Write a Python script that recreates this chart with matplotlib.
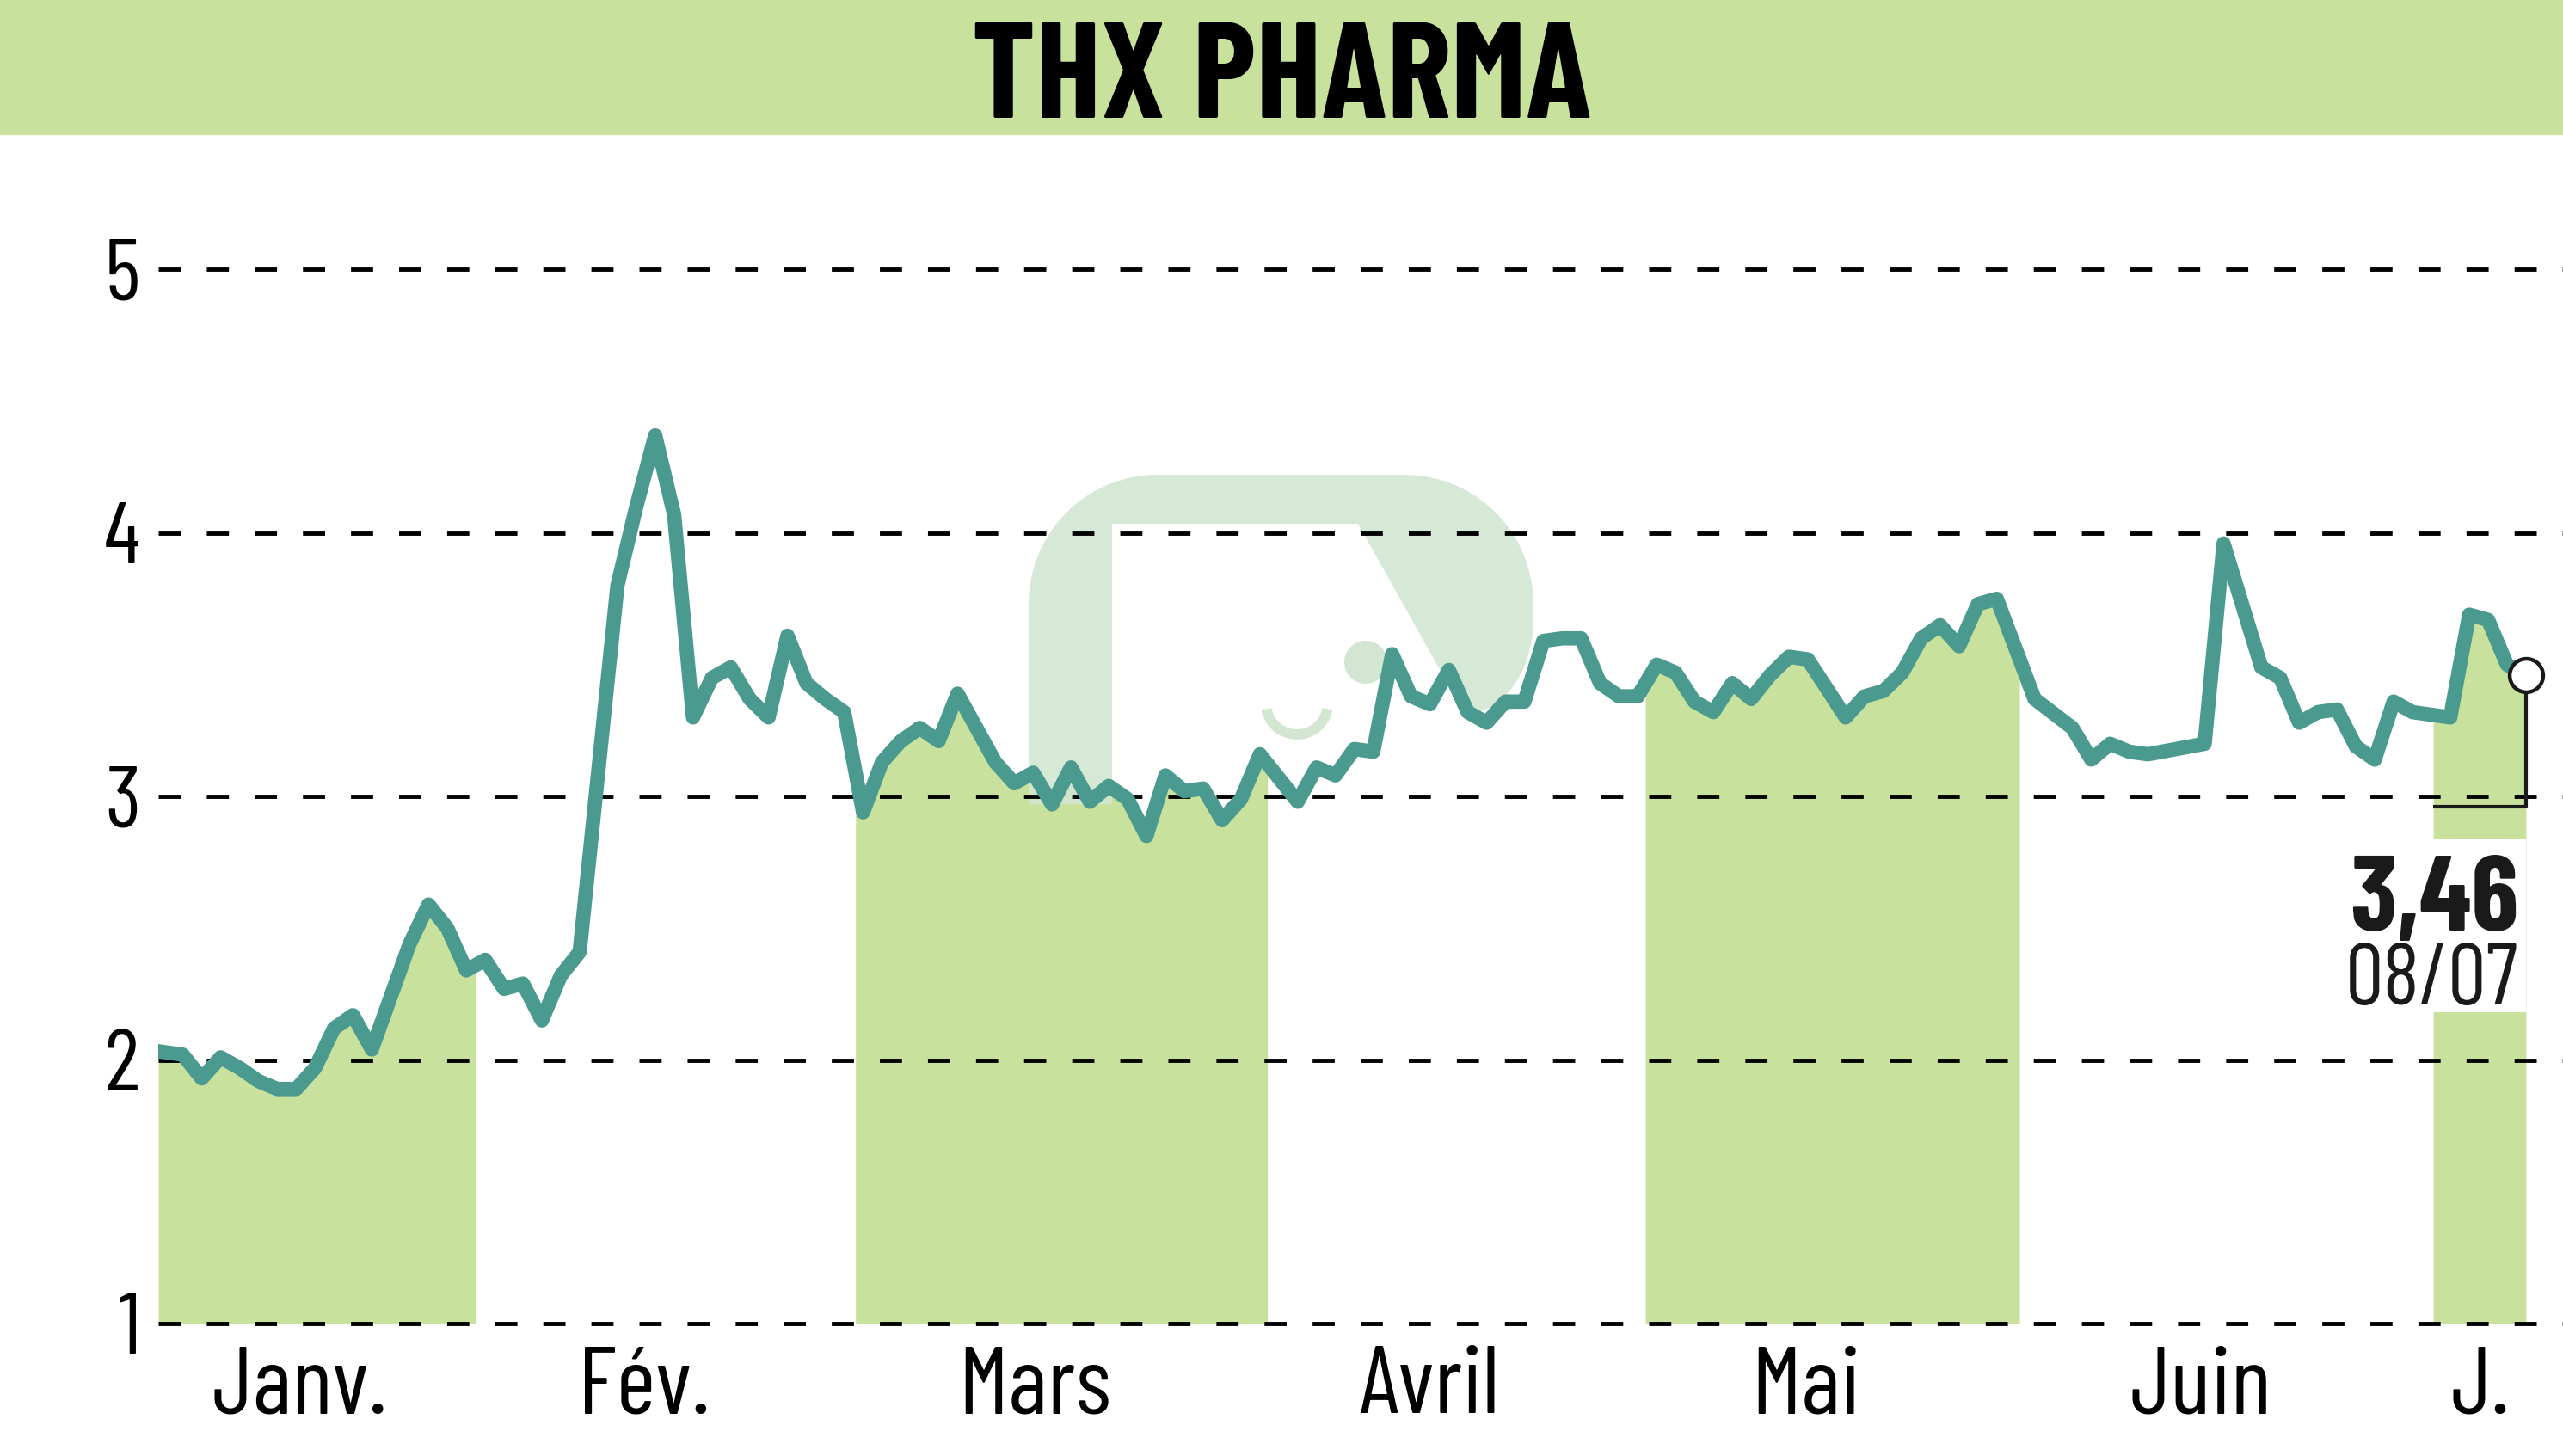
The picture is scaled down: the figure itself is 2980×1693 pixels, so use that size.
import numpy as np
import matplotlib.pyplot as plt
from matplotlib.patches import Rectangle, Polygon, Circle, Wedge

# ------------------------------------------------------------------------------
# data (x = trading-day index, gaps = days without quotes)
# ------------------------------------------------------------------------------
days = [0, 1, 2, 3, 4, 5, 6, 7, 8, 9, 10, 11, 12, 13, 14, 15, 16,
        17, 18, 19, 20, 21, 22, 24, 25, 26, 27, 28, 29, 30, 31, 32, 33, 34, 35, 36,
        37, 38, 39, 40, 41, 42, 43, 44, 45, 46, 47, 48, 49, 50, 51, 52, 53, 54,
        55, 56, 57, 58,
        60, 61, 62, 63, 64, 65, 66, 67, 68, 69, 70, 71, 72, 73, 74, 75, 76, 77, 78,
        79, 80, 81, 82, 83, 84, 85, 86, 87, 88, 89, 90, 91, 92, 93, 94, 95, 96, 97,
        99, 101, 102, 103, 104, 105, 108, 109, 111, 112, 113, 114, 115, 116, 117,
        118, 119,
        121, 122, 123, 124, 125]

prices = [2.03, 2.02, 1.93, 2.01, 1.97, 1.92, 1.89, 1.89, 1.97, 2.12, 2.17, 2.04,
          2.24, 2.44, 2.59, 2.50, 2.34,
          2.38, 2.27, 2.29, 2.15, 2.32, 2.41, 3.80, 4.10, 4.37, 4.07, 3.30, 3.45,
          3.49, 3.37, 3.30, 3.61, 3.43, 3.37, 3.32,
          2.94, 3.13, 3.21, 3.26, 3.21, 3.39, 3.26, 3.13, 3.05, 3.09, 2.97, 3.11,
          2.98, 3.04, 2.99, 2.85, 3.08, 3.02, 3.03, 2.91, 2.99, 3.16,
          2.98, 3.11, 3.08, 3.18, 3.17, 3.54, 3.38, 3.35, 3.48, 3.32, 3.28, 3.36,
          3.36, 3.59, 3.60, 3.60, 3.43, 3.38, 3.38,
          3.50, 3.47, 3.36, 3.32, 3.43, 3.37, 3.46, 3.53, 3.52, 3.41, 3.30, 3.38,
          3.40, 3.47, 3.60, 3.65, 3.57, 3.73, 3.75,
          3.37, 3.26, 3.14, 3.20, 3.17, 3.16, 3.20, 3.96, 3.49, 3.45, 3.28, 3.32,
          3.33, 3.19, 3.14, 3.36, 3.32,
          3.30, 3.69, 3.67, 3.50, 3.46]

# month boundaries on the same day scale, first one = left edge of the chart
month_edges = [-0.3, 16.5, 36.6, 58.4, 78.4, 98.2, 120.1]
month_names = ['Janv.', 'Fév.', 'Mars', 'Avril', 'Mai', 'Juin', 'J.']
month_label_pos = [7.2, 25.4, 46.1, 67.0, 86.9, 107.8, 122.6]

yticks = [1, 2, 3, 4, 5]
title = 'THX PHARMA'
last_label = '3,46'
last_date = '08/07'

# ------------------------------------------------------------------------------
green = '#c8e29d'
teal = '#4b9a8f'
ink = '#1a1a1a'
logo = '#d2e6d2'

plt.rcParams['font.family'] = ['Barlow Condensed', 'DejaVu Sans']

W, H = 2980, 1693
fig = plt.figure(figsize=(W / 100, H / 100), dpi=100)


def px(x, y):
    # pixel position (from top-left) to inches, for fig.dpi_scale_trans
    return (x / 100, (H - y) / 100)


# title banner
fig.patches.append(Rectangle((0, 1 - 156 / H), 1, 156 / H, transform=fig.transFigure,
                             color=green, zorder=0))
fig.text(0.5, 1 - 137 / H, title, ha='center', va='baseline',
         fontsize=114, fontweight='bold', color='black')

ax = fig.add_axes([184 / W, 1 - 1539 / H, 1 - 184 / W, (1539 - 160) / H])

x = np.array(days, dtype=float)
y = np.array(prices)

# shaded area under the curve for every other month
edges = month_edges + [x[-1]]
for i in range(0, len(edges) - 1, 2):
    a, b = edges[i], edges[i + 1]
    xs = np.concatenate([[a], x[(x > a) & (x < b)], [b]])
    ys = np.interp(xs, x, y)
    ax.fill_between(xs, 1, ys, color=green, lw=0, zorder=1)

# faint watermark logo in the background
tr = fig.dpi_scale_trans
t = np.linspace(0, np.pi / 2, 20)
r = 150
left_arc = [(1196 + r - r * np.cos(a), 552 + r - r * np.sin(a)) for a in t]
right_arc = [(1783 - r + r * np.sin(a), 552 + r - r * np.cos(a)) for a in t]
low_arc = [(1783 - 80 + 80 * np.cos(a), 720 + 110 * np.sin(a)) for a in t]
outline = ([(1196, 935)] + left_arc + right_arc + low_arc +
           [(1579, 609), (1293, 609), (1293, 935)])
ax.add_patch(Polygon([px(*p) for p in outline], closed=True, transform=tr,
                     facecolor=logo, edgecolor='none', alpha=0.9, zorder=1.2))
ax.add_patch(Circle(px(1588, 770), 0.25, transform=tr,
                    facecolor=logo, edgecolor='none', zorder=1.2))
ax.add_patch(Wedge(px(1508, 818), 0.42, 190, 350, width=0.12, transform=tr,
                   facecolor=logo, edgecolor='none', zorder=1.2))

# white box behind the last value label
ax.add_patch(Rectangle((month_edges[-1], 2.18), x[-1] - month_edges[-1], 0.66,
                       facecolor='white', edgecolor='none', zorder=1.5))

for v in yticks:
    ax.axhline(v, color='black', lw=3.5, linestyle=(0, (5.3, 6.2)),
               zorder=2, clip_on=False)

ax.plot(x, y, color=teal, lw=12, zorder=3)

# last value marker and bracket
ax.plot([x[-1], x[-1], month_edges[-1]], [y[-1], 2.96, 2.96],
        color=ink, lw=3, zorder=4, solid_capstyle='butt')
ax.plot(x[-1], y[-1], 'o', ms=28, mfc='white', mec=ink, mew=3.2, zorder=5)

ax.text(x[-1] - 0.4, 2.49, last_label, ha='right', va='baseline',
        fontsize=90, fontweight='bold', color=ink, zorder=6)
ax.text(x[-1] - 0.4, 2.21, last_date, ha='right', va='baseline',
        fontsize=72, color=ink, zorder=6)

ax.set_xlim(month_edges[0], month_edges[0] + (W - 184) / 21.97)
ax.set_ylim(1, 5.5)

ax.set_yticks(yticks)
ax.set_yticklabels([str(v) for v in yticks], fontsize=73)
ax.set_xticks(month_label_pos)
ax.set_xticklabels(month_names, fontsize=80)
ax.tick_params(axis='y', length=0, pad=15)
ax.tick_params(axis='x', length=0, pad=19)

for s in ax.spines.values():
    s.set_visible(False)

fig.savefig('out.png', dpi=100, facecolor='white')
